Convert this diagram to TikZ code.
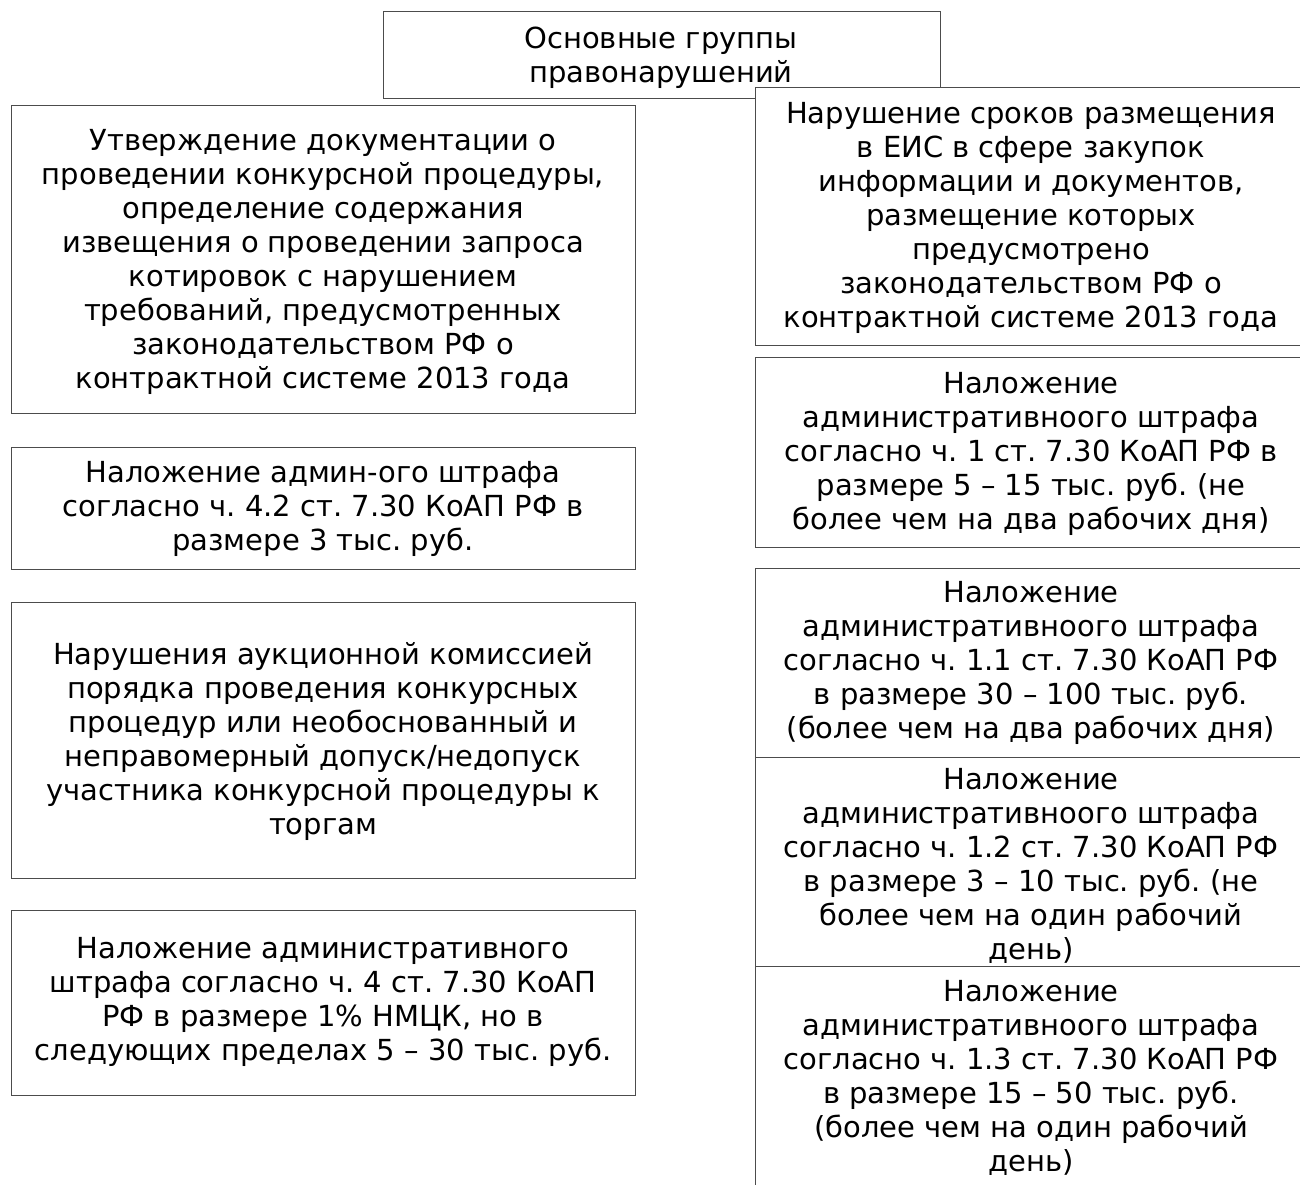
\documentclass[tikz,border=0pt]{standalone}
\usepackage{fontspec}
\setmainfont{DejaVu Sans}
\frenchspacing
\begin{document}
\begin{tikzpicture}[x=0.5pt,y=-0.5pt,
  box/.style={draw=black!70, line width=0.7pt, fill=white, inner sep=0pt, anchor=north west},
  txt/.style={align=center, inner sep=0pt, font=\fontsize{14.5pt}{17pt}\selectfont\frenchspacing}]
\useasboundingbox (0,0) rectangle (1300,1184);
\clip (0,0) rectangle (1300,1184);
% boxes
\node[box, minimum width=278.5pt, minimum height=43.5pt] (top) at (383,11) {};
\node[box, minimum width=312pt, minimum height=154pt] (l1) at (11,105) {};
\node[box, minimum width=312pt, minimum height=61pt] (l2) at (11,447) {};
\node[box, minimum width=312pt, minimum height=138pt] (l3) at (11,602) {};
\node[box, minimum width=312pt, minimum height=92.5pt] (l4) at (11,910) {};
\node[box, minimum width=276pt, minimum height=129pt] (r1) at (755,87) {};
\node[box, minimum width=276pt, minimum height=95pt] (r2) at (755,357) {};
\node[box, minimum width=276pt, minimum height=94.5pt] (r3) at (755,568) {};
\node[box, minimum width=276pt, minimum height=104.5pt] (r4) at (755,757) {};
\node[box, minimum width=276pt, minimum height=120pt] (r5) at (755,966) {};
% texts
\node[txt] (ttop) at (661,57.5) {Основные группы\\правонарушений};
\node[txt] (tl1) at (323,262) {Утверждение документации о\\проведении конкурсной процедуры,\\определение содержания\\извещения о проведении запроса\\котировок с нарушением\\требований, предусмотренных\\законодательством РФ о\\контрактной системе 2013 года};
\node[txt] (tl2) at (323,509) {Наложение админ-ого штрафа\\согласно ч. 4.2 ст. 7.30 КоАП РФ в\\размере 3 тыс. руб.};
\node[txt] (tl3) at (323,741) {Нарушения аукционной комиссией\\порядка проведения конкурсных\\процедур или необоснованный и\\неправомерный допуск/недопуск\\участника конкурсной процедуры к\\торгам};
\node[txt] (tl4) at (323,1002) {Наложение административного\\штрафа согласно ч. 4 ст. 7.30 КоАП\\РФ в размере 1\% НМЦК, но в\\следующих пределах 5 – 30 тыс. руб.};
\node[txt] (tr1) at (1031,218) {Нарушение сроков размещения\\в ЕИС в сфере закупок\\информации и документов,\\размещение которых\\предусмотрено\\законодательством РФ о\\контрактной системе 2013 года};
\node[txt] (tr2) at (1031,454) {Наложение\\административноого штрафа\\согласно ч. 1 ст. 7.30 КоАП РФ в\\размере 5 – 15 тыс. руб. (не\\более чем на два рабочих дня)};
\node[txt] (tr3) at (1031,663) {Наложение\\административноого штрафа\\согласно ч. 1.1 ст. 7.30 КоАП РФ\\в размере 30 – 100 тыс. руб.\\(более чем на два рабочих дня)};
\node[txt] (tr4) at (1031,866) {Наложение\\административноого штрафа\\согласно ч. 1.2 ст. 7.30 КоАП РФ\\в размере 3 – 10 тыс. руб. (не\\более чем на один рабочий\\день)};
\node[txt] (tr5) at (1031,1078) {Наложение\\административноого штрафа\\согласно ч. 1.3 ст. 7.30 КоАП РФ\\в размере 15 – 50 тыс. руб.\\(более чем на один рабочий\\день)};
\end{tikzpicture}
\end{document}
